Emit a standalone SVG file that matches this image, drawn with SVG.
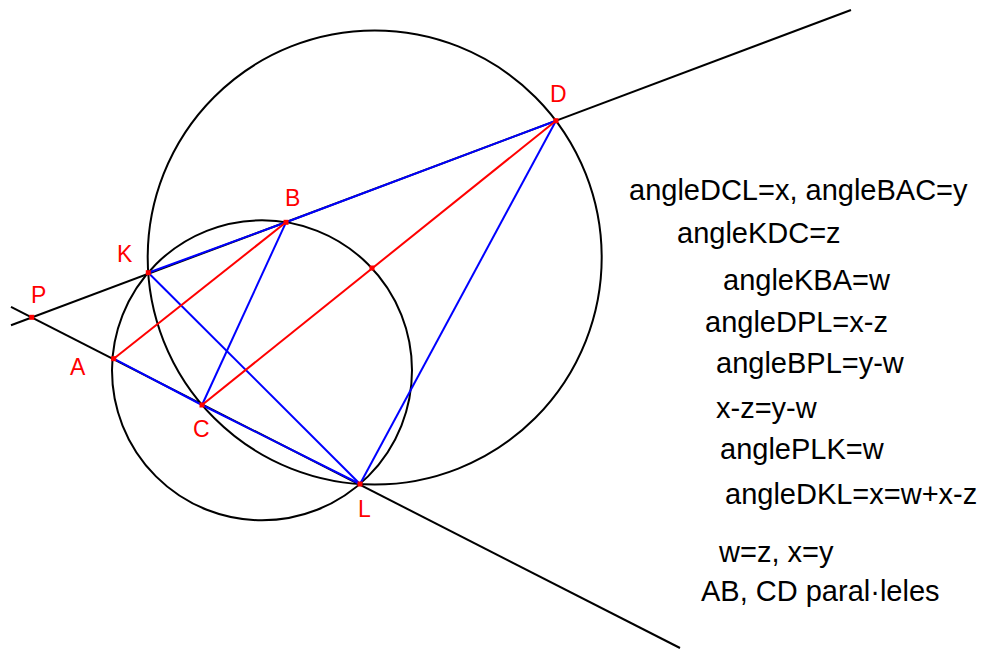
<svg xmlns="http://www.w3.org/2000/svg" width="987" height="649" viewBox="0 0 987 649">
<style>
.k{stroke:#000;stroke-width:2;fill:none}
.b{stroke:#0000ff;stroke-width:2;fill:none}
.r{stroke:#ff0000;stroke-width:2;fill:none}
.pt{fill:#ff0000}
.lbl{font-family:"Liberation Sans",Arial,sans-serif;font-size:23px;fill:#ff0000}
.eq{font-family:"Liberation Sans",Arial,sans-serif;font-size:29px;fill:#000}
</style>
<rect width="987" height="649" fill="#fff"/>
<g id="circles">
<circle class="k" cx="374.7" cy="257.5" r="227"/>
<circle class="k" cx="262" cy="370.3" r="150"/>
</g>
<g id="connectors">
<line class="k" x1="11" y1="325.3" x2="851" y2="10"/>
<line class="k" x1="11" y1="306.8" x2="680" y2="648"/>
<polyline class="b" points="148.3,272.7 286,222.3 556,120.7"/>
<polyline class="b" points="113.7,358.7 202,405 360,484"/>
<line class="b" x1="148.3" y1="272.7" x2="360" y2="484"/>
<line class="b" x1="286" y1="222.3" x2="202" y2="405"/>
<line class="b" x1="556" y1="120.7" x2="360" y2="484"/>
<line class="r" x1="113.7" y1="358.7" x2="286" y2="222.3"/>
<line class="r" x1="202" y1="405" x2="556" y2="120.7"/>
</g>
<g id="P"><rect class="pt" x="29.2" y="314.8" width="5" height="5"/><text class="lbl" x="31" y="303">P</text></g>
<g id="A"><rect class="pt" x="111.2" y="356.2" width="5" height="5"/><text class="lbl" x="70" y="375">A</text></g>
<g id="K"><rect class="pt" x="145.8" y="270.2" width="5" height="5"/><text class="lbl" x="117" y="262">K</text></g>
<g id="B"><rect class="pt" x="283.5" y="219.8" width="5" height="5"/><text class="lbl" x="285" y="206">B</text></g>
<g id="C"><rect class="pt" x="199.5" y="402.5" width="5" height="5"/><text class="lbl" x="193" y="437">C</text></g>
<g id="L"><rect class="pt" x="357.5" y="481.5" width="5" height="5"/><text class="lbl" x="358" y="517">L</text></g>
<g id="D"><rect class="pt" x="553.5" y="118.2" width="5" height="5"/><text class="lbl" x="550" y="102">D</text></g>
<g id="O"><rect class="pt" x="369.5" y="265.5" width="5" height="5"/></g>
<g id="notes">
<text class="eq" x="629" y="200">angleDCL=x, angleBAC=y</text>
<text class="eq" x="677" y="243">angleKDC=z</text>
<text class="eq" x="723" y="290">angleKBA=w</text>
<text class="eq" x="705" y="332">angleDPL=x-z</text>
<text class="eq" x="716" y="373">angleBPL=y-w</text>
<text class="eq" x="716" y="418">x-z=y-w</text>
<text class="eq" x="720" y="459">anglePLK=w</text>
<text class="eq" x="725" y="504">angleDKL=x=w+x-z</text>
<text class="eq" x="719" y="562">w=z, x=y</text>
<text class="eq" x="701" y="601">AB, CD paral·leles</text>
</g>
</svg>
